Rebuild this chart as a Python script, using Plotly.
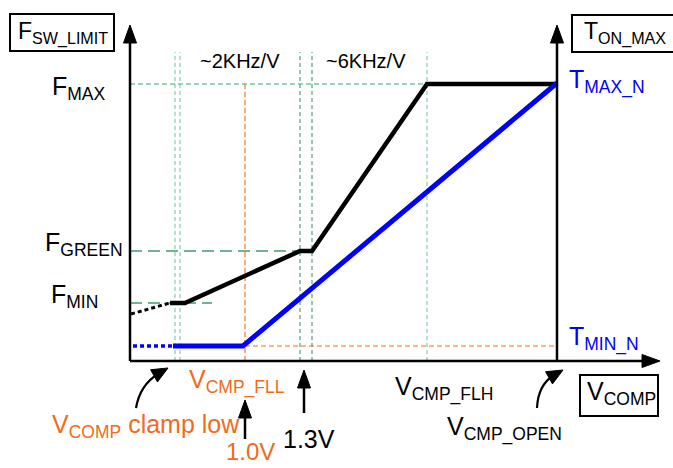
import plotly.graph_objects as go
import numpy as np

# Diagram units: 1 unit = 1 px, origin at the axes corner, y up
# Frequency curve (F_SW_LIMIT vs V_COMP)
f_dot_x = [1, 40]
f_dot_y = [47, 58]
f_x = [40, 55, 170, 182, 297, 427]
f_y = [58, 58, 110, 110, 277, 277]
# T_ON_MAX curve
t_dot_x = [3, 43]
t_dot_y = [15, 15]
t_x = [43, 113, 427]
t_y = [15, 15, 278]

# reference levels
F_MAX, F_GREEN, F_MIN, T_MIN = 277, 110, 58, 15
V_CLAMP = [45, 50]
V_13 = [170, 182]
V_FLL = 115
V_FLH = 297
V_OPEN = 427
V_TOP = 309

BLACK = "#000000"
BLUE = "#0000FF"
ORANGE = "#F26A1B"
LGREEN = "#8FD1B1"
DGREEN = "#3E9C6E"
FONT = "Liberation Sans, Arial, sans-serif"

fig = go.Figure()

def seg(x, y, color, width, dash):
    fig.add_trace(go.Scatter(x=x, y=y, mode="lines", hoverinfo="skip",
                             line=dict(color=color, width=width, dash=dash),
                             showlegend=False, cliponaxis=False))

# dashed guide lines
for v in V_CLAMP:
    seg([v, v], [0, V_TOP], LGREEN, 1.3, "4px,3px")
for v in V_13:
    seg([v, v], [0, V_TOP], DGREEN, 1.1, "4px,3px")
seg([V_FLH, V_FLH], [0, V_TOP], LGREEN, 1.3, "4px,3px")
seg([0, V_OPEN], [F_MAX, F_MAX], "#3AAA70", 1.2, "5px,3px")
seg([0, V_13[1]], [F_GREEN, F_GREEN], DGREEN, 1.5, "12px,6px")
seg([0, 82], [F_MIN, F_MIN], DGREEN, 1.5, "12px,6px")
seg([V_FLL, V_FLL], [0, F_MAX], ORANGE, 1.1, "5px,3px")
seg([V_FLL, V_OPEN], [T_MIN, T_MIN], ORANGE, 1.1, "5px,3px")

# curves
seg(f_dot_x, f_dot_y, BLACK, 3, "4px,3px")
seg(f_x, f_y, BLACK, 4.5, "solid")
seg(t_dot_x, t_dot_y, BLUE, 3.5, "4px,3px")
seg(t_x, t_y, BLUE, 5, "solid")

shapes = []

def line(x0, y0, x1, y1, w=2.5):
    shapes.append(dict(type="line", x0=x0, y0=y0, x1=x1, y1=y1, xref="x", yref="y",
                       line=dict(color=BLACK, width=w)))

def head(tx, ty, dx, dy, L=18, hw=6.5):
    n = np.hypot(dx, dy); ux, uy = dx / n, dy / n
    bx, by = tx - ux * L, ty - uy * L
    px, py = -uy * hw, ux * hw
    path = f"M {tx},{ty} L {bx+px},{by+py} L {bx-px},{by-py} Z"
    shapes.append(dict(type="path", path=path, xref="x", yref="y",
                       fillcolor=BLACK, line=dict(color=BLACK, width=1)))
    return bx, by

# axes
line(0, 0, 0, 320)
head(0, 336, 0, 1)
line(0, 0, 514, 0)
head(530, 0, 1, 0)
line(427, 0, 427, 320)
head(427, 336, 0, 1)

# straight callout arrows
line(115, -78, 115, -52)
head(115, -39, 0, 1)
line(174, -52, 174, -22)
head(174, -9, 0, 1)

# curved callout arrows
def curve(t0, c, t1):
    shapes.append(dict(type="path", path=f"M {t0[0]},{t0[1]} Q {c[0]},{c[1]} {t1[0]},{t1[1]}",
                       xref="x", yref="y", line=dict(color=BLACK, width=2.2)))

curve((6, -47), (10, -24), (28, -13))
head(38, -7, 25, 14, L=16, hw=7)
curve((407, -47), (408, -24), (424, -14))
head(433, -9, 25, 14, L=16, hw=7)

# boxes
for x0, y0, x1, y1 in [(-120, 347, -16, 310), (442, 346, 560, 309), (450, -14, 528, -55)]:
    shapes.append(dict(type="rect", x0=x0, y0=y0, x1=x1, y1=y1, xref="x", yref="y",
                       line=dict(color=BLACK, width=2), fillcolor="rgba(0,0,0,0)"))

ann = []
def txt(x, y, s, xa="left", color=BLACK, size=25, ya="middle"):
    ann.append(dict(x=x, y=y, text=s, xref="x", yref="y", showarrow=False,
                    xanchor=xa, yanchor=ya, font=dict(family=FONT, size=size, color=color)))

txt(-114, 328, "F<sub>SW_LIMIT</sub>", size=23)
txt(452, 328, "T<sub>ON_MAX</sub>", size=23)
txt(110, 300, "~2KHz/V", xa="center", size=20)
txt(236, 300, "~6KHz/V", xa="center", size=20)
txt(-22, 273, "F<sub>MAX</sub>", xa="right")
txt(-5, 117, "F<sub>GREEN</sub>", xa="right")
txt(-30, 65, "F<sub>MIN</sub>", xa="right")
txt(437, 280, "T<sub>MAX_N</sub>", color=BLUE)
txt(437, 23, "T<sub>MIN_N</sub>", color=BLUE)
txt(57, -20, "V<sub>CMP_FLL</sub>", color=ORANGE)
txt(263, -27, "V<sub>CMP_FLH</sub>")
txt(455, -32, "V<sub>COMP</sub>")
txt(315, -67, "V<sub>CMP_OPEN</sub>")
txt(-80, -65, "V<sub>COMP</sub> clamp low", color=ORANGE)
txt(179, -78, "1.3V", xa="center")
txt(120, -106, "1.0V", xa="center", ya="bottom", color=ORANGE, size=24)

fig.update_layout(
    width=673, height=468,
    margin=dict(l=0, r=0, t=0, b=0),
    paper_bgcolor="white", plot_bgcolor="white",
    xaxis=dict(range=[-130, 543], visible=False, fixedrange=True),
    yaxis=dict(range=[-107, 361], visible=False, fixedrange=True),
    shapes=shapes, annotations=ann, showlegend=False,
)
fig.write_html("out.html")
